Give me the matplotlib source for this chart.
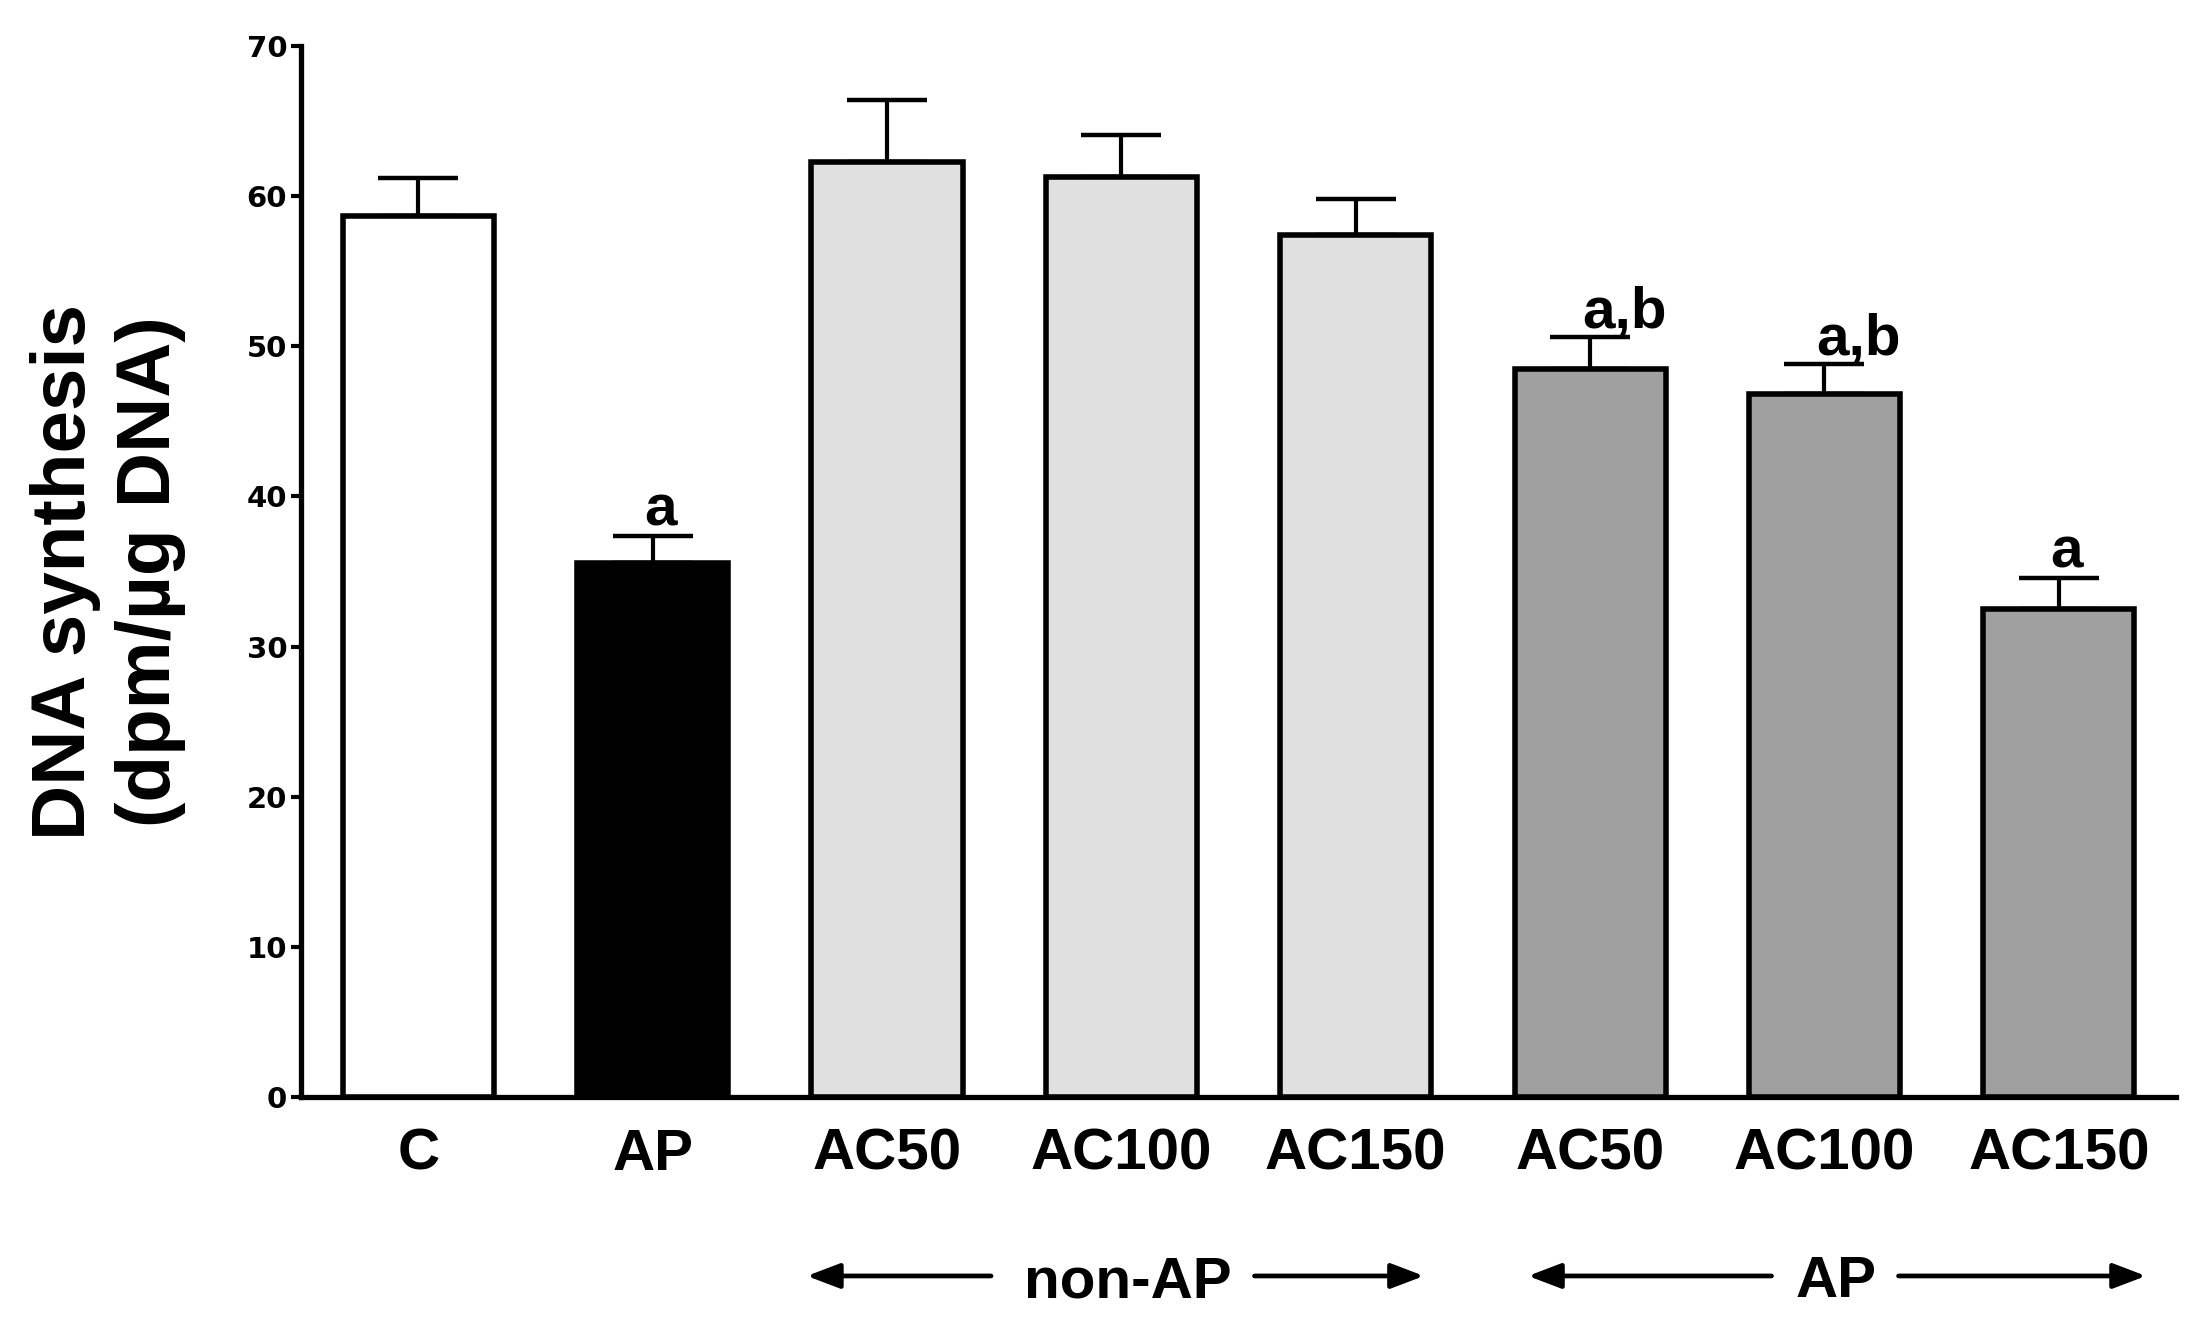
import matplotlib
matplotlib.use("Agg")
import matplotlib.pyplot as plt
from matplotlib.transforms import blended_transform_factory
from matplotlib.patches import FancyArrowPatch

# ---- data ----
categories = ["C", "AP", "AC50", "AC100", "AC150", "AC50", "AC100", "AC150"]
values = [58.7, 35.6, 62.3, 61.3, 57.4, 48.5, 46.8, 32.5]
errors = [2.5, 1.8, 4.1, 2.8, 2.4, 2.1, 2.0, 2.1]
colors = ["#ffffff", "#000000", "#e0e0e0", "#e0e0e0", "#e0e0e0",
          "#a0a0a0", "#a0a0a0", "#a0a0a0"]
sig_labels = ["", "a", "", "", "", "a,b", "a,b", "a"]
y_ticks = [0, 10, 20, 30, 40, 50, 60, 70]
group_labels = ["non-AP", "AP"]

plt.rcParams['font.family'] = ['Liberation Sans', 'DejaVu Sans']

fig = plt.figure(figsize=(21.98, 13.18), dpi=100)
ax = fig.add_axes([0.137, 0.1677, 0.853, 0.7973])

x = list(range(len(categories)))
ax.bar(x, values, width=0.645, color=colors, edgecolor="black",
       linewidth=4.0, zorder=3)
ax.errorbar(x, values, yerr=[[0] * len(errors), errors], fmt="none",
            ecolor="black", elinewidth=3.0, capsize=29, capthick=3.2,
            zorder=2)

for xi, v, e, lab in zip(x, values, errors, sig_labels):
    if lab:
        ax.annotate(lab, xy=(xi, v + e), xytext=(-6, 7),
                    textcoords="offset points", ha="left", va="baseline",
                    fontsize=42, fontweight="bold")

ax.set_xlim(-0.5, 7.5)
ax.set_ylim(0, 70)
ax.set_yticks(y_ticks)
ax.set_xticks(x)
ax.set_xticklabels(categories, fontsize=42, fontweight="bold")
for lab in ax.get_yticklabels():
    lab.set_family("DejaVu Sans")
    lab.set_fontweight("bold")
    lab.set_fontsize(21)
ax.tick_params(axis="y", length=7, width=3, pad=3, direction="out")
ax.tick_params(axis="x", length=0, pad=22)

for s in ["top", "right"]:
    ax.spines[s].set_visible(False)
for s in ["left", "bottom"]:
    ax.spines[s].set_linewidth(3.8)

fig.text(0.049, 0.566, "DNA synthesis\n(dpm/\u00b5g DNA)", rotation=90,
         ha="center", va="center", fontsize=55, fontweight="bold",
         linespacing=1.25, multialignment="center")

# group annotations with arrows
tr = blended_transform_factory(ax.transData, fig.transFigure)
arrow_y = 0.0319
text_y = 0.0159
group_text_x = [3.026, 6.05]
arrows = [(2.444, 1.658), (3.568, 4.291), (5.774, 4.735), (6.316, 7.372)]
for gx, gl in zip(group_text_x, group_labels):
    ax.text(gx, text_y, gl, transform=tr, ha="center", va="baseline",
            fontsize=42, fontweight="bold", clip_on=False)
for x0, x1 in arrows:
    arr = FancyArrowPatch((x0, arrow_y), (x1, arrow_y), transform=tr,
                          arrowstyle="-|>,head_length=1.0,head_width=0.38",
                          mutation_scale=20, linewidth=3.4, color="black",
                          shrinkA=0, shrinkB=0, clip_on=False)
    ax.add_artist(arr)

fig.savefig("out.png", dpi=100)
